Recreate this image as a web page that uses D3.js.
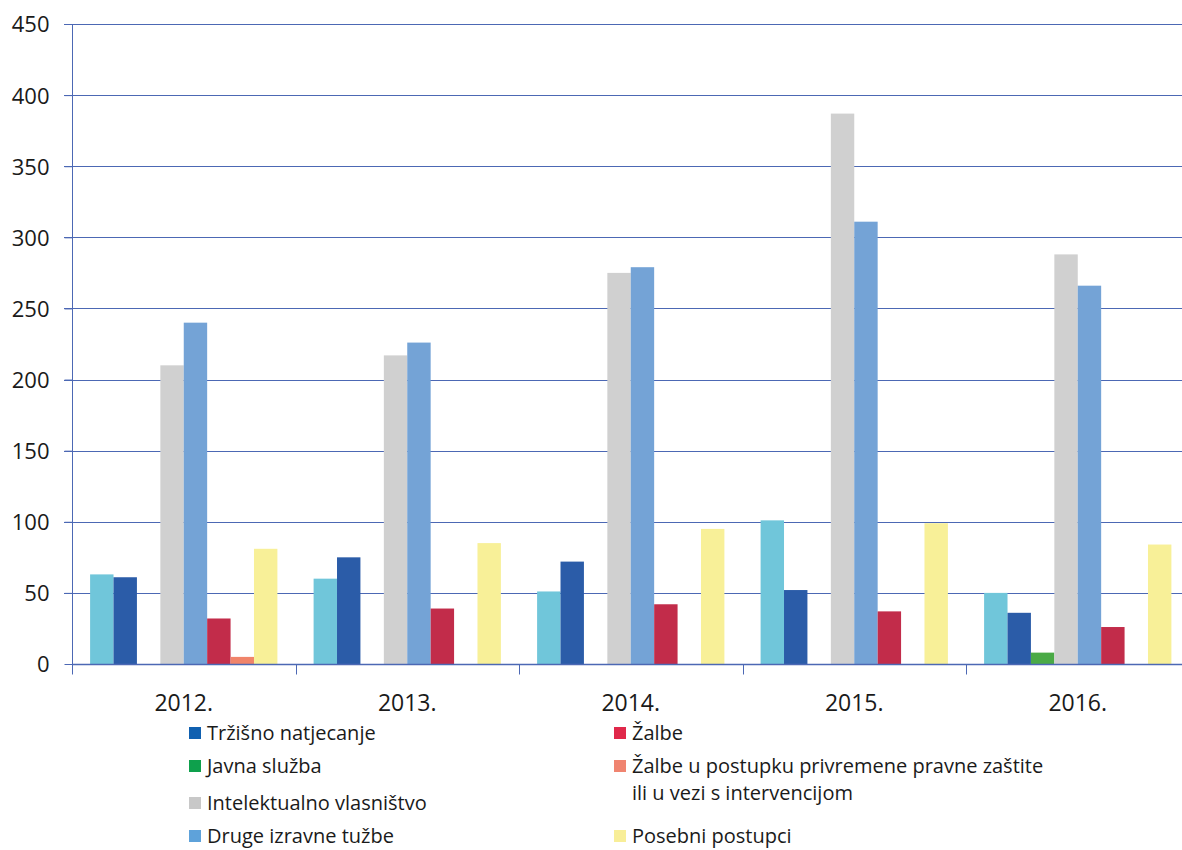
<!DOCTYPE html>
<html>
<head>
<meta charset="utf-8">
<script src="https://cdn.jsdelivr.net/npm/d3@7"></script>
<style>
  body { margin: 0; background: #fff; }
  svg text { font-family: "Open Sans", "Noto Sans", sans-serif; fill: #1a1a1a; }
</style>
</head>
<body>
<div id="chart"></div>
<script>
// DATA
const years = ['2012.', '2013.', '2014.', '2015.', '2016.'];
const seriesNames = ['Državne potpore', 'Tržišno natjecanje', 'Javna služba', 'Intelektualno vlasništvo',
  'Druge izravne tužbe', 'Žalbe', 'Žalbe u postupku privremene pravne zaštite ili u vezi s intervencijom', 'Posebni postupci'];
const drzavnePotpore = [63, 60, 51, 101, 50];
const trzisnoNatjecanje = [61, 75, 72, 52, 36];
const javnaSluzba = [0, 0, 0, 0, 8];
const intelektualno = [210, 217, 275, 387, 288];
const drugeTuzbe = [240, 226, 279, 311, 266];
const zalbe = [32, 39, 42, 37, 26];
const zalbePostupak = [5, 0, 0, 0, 0];
const posebniPostupci = [81, 85, 95, 99, 84];
const yTicks = [0, 50, 100, 150, 200, 250, 300, 350, 400, 450];

const values = [drzavnePotpore, trzisnoNatjecanje, javnaSluzba, intelektualno,
  drugeTuzbe, zalbe, zalbePostupak, posebniPostupci];
const barColors = ['#70c6da', '#2b5ca8', '#4aaa46', '#d0d0d0', '#74a3d6', '#c22c4a', '#f0846a', '#f8f098'];

// legend entries (the first series has none in the original)
const legendItems = [
  { s: 1, col: 0, row: 0, lines: ['Tržišno natjecanje'], color: '#1060b0' },
  { s: 2, col: 0, row: 1, lines: ['Javna služba'], color: '#0ea04c' },
  { s: 3, col: 0, row: 2, lines: ['Intelektualno vlasništvo'], color: '#c8c8c8' },
  { s: 4, col: 0, row: 3, lines: ['Druge izravne tužbe'], color: '#5ea2da' },
  { s: 5, col: 1, row: 0, lines: ['Žalbe'], color: '#e0284a' },
  { s: 6, col: 1, row: 1, lines: ['Žalbe u postupku privremene pravne zaštite', 'ili u vezi s intervencijom'], color: '#f08470' },
  { s: 7, col: 1, row: 3, lines: ['Posebni postupci'], color: '#f8ee98' }
];

const W = 1182, H = 850;
const plotLeft = 72, plotTop = 24, plotBottom = 664;
const groupW = 223.5;
const axisColor = '#4c68b4';

const svg = d3.select('#chart').append('svg')
  .attr('width', W).attr('height', H);

const y = d3.scaleLinear().domain([0, 450]).range([plotBottom, plotTop]);
const x0 = d3.scaleBand().domain(years)
  .range([plotLeft, plotLeft + groupW * years.length])
  .paddingInner(0.162).paddingOuter(0.081);
const x1 = d3.scaleBand().domain(d3.range(seriesNames.length)).range([0, x0.bandwidth()]);

// gridlines
svg.append('g').selectAll('line')
  .data(yTicks.filter(d => d > 0))
  .enter().append('line')
    .attr('x1', plotLeft - 8).attr('x2', W)
    .attr('y1', d => Math.round(y(d)) + 0.5).attr('y2', d => Math.round(y(d)) + 0.5)
    .attr('stroke', axisColor).attr('stroke-width', 1);

// bars
const groups = svg.append('g').selectAll('g')
  .data(years)
  .enter().append('g')
    .attr('transform', d => `translate(${x0(d)},0)`);

groups.selectAll('rect')
  .data((d, i) => values.map((v, s) => ({ s, v: v[i] })).filter(d => d.v > 0))
  .enter().append('rect')
    .attr('x', d => x1(d.s))
    .attr('width', x1.bandwidth())
    .attr('y', d => y(d.v))
    .attr('height', d => plotBottom - y(d.v))
    .attr('fill', d => barColors[d.s]);

// y axis
const yAxis = svg.append('g').attr('transform', `translate(${plotLeft + 0.5},0)`)
  .call(d3.axisLeft(y).tickValues(yTicks).tickSize(8).tickPadding(15));
yAxis.select('.domain').attr('stroke', axisColor).attr('d', `M0,${plotTop}V${plotBottom + 10}`);
yAxis.selectAll('.tick line').attr('stroke', axisColor);
yAxis.selectAll('.tick text').style('font-size', '22px').attr('dy', '0.36em');

// x axis
const xa = svg.append('g').attr('transform', `translate(0,${plotBottom + 0.5})`);
xa.append('line').attr('x1', plotLeft).attr('x2', W).attr('stroke', axisColor).attr('stroke-width', 1.5);
xa.selectAll('line.tk')
  .data(d3.range(years.length + 1))
  .enter().append('line')
    .attr('class', 'tk')
    .attr('x1', i => Math.round(plotLeft + i * groupW) + 0.5)
    .attr('x2', i => Math.round(plotLeft + i * groupW) + 0.5)
    .attr('y1', 0).attr('y2', 10)
    .attr('stroke', axisColor);
xa.selectAll('text')
  .data(years)
  .enter().append('text')
    .attr('x', d => x0(d) + x0.bandwidth() / 2)
    .attr('y', 46)
    .attr('text-anchor', 'middle')
    .style('font-size', '23px')
    .text(d => d);

// legend
const colX = [189, 614];
const rowY = [733, 766, 803, 836];
const leg = svg.append('g').selectAll('g')
  .data(legendItems)
  .enter().append('g')
    .attr('transform', d => `translate(${colX[d.col]},${rowY[d.row]})`);
leg.append('rect')
  .attr('x', 0).attr('y', -6).attr('width', 12).attr('height', 12)
  .attr('fill', d => d.color);
leg.selectAll('text')
  .data(d => d.lines)
  .enter().append('text')
    .attr('x', 18)
    .attr('y', (l, i) => i * 27)
    .attr('dy', '0.35em')
    .style('font-size', '20px')
    .text(l => l);
</script>
</body>
</html>
